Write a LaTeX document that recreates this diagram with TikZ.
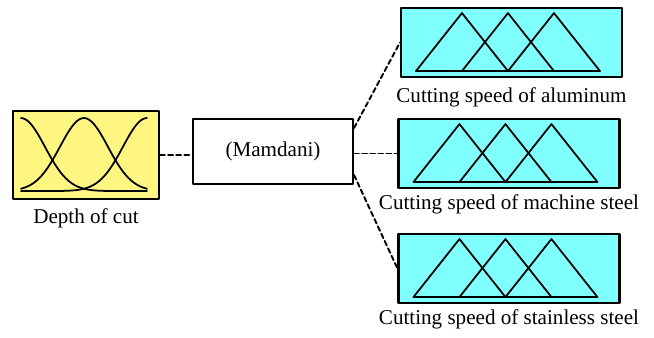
\documentclass[tikz,border=0pt]{standalone}
\usepackage{fontspec}
\setmainfont{Liberation Serif}
\usetikzlibrary{positioning}
\definecolor{fisyellow}{RGB}{255,246,130}
\definecolor{fiscyan}{RGB}{128,255,255}
\begin{document}
\begin{tikzpicture}[font=\fontsize{12}{14}\selectfont, line join=round, line cap=round,
	box/.style={draw, line width=1.2pt, inner sep=0pt},
	outbox/.style={box, fill=fiscyan, minimum width=4.42cm, minimum height=1.38cm},
	link/.style={line width=1.1pt, dash pattern=on 2.8pt off 1.8pt},
	mf/.style={line width=1pt}]
	\useasboundingbox (0,0) rectangle (13.08,6.74);
	% input, engine, outputs
	\node[box, fill=fisyellow, minimum width=2.92cm, minimum height=1.76cm] (depth) at (1.72,3.64) {};
	\node[box, minimum width=3.2cm, minimum height=1.3cm] (mam) at (5.46,3.71) {(Mamdani)};
	\node[outbox] (alu) at (10.23,5.89) {};
	\node[outbox] (mach) at (10.18,3.67) {};
	\node[outbox] (stain) at (10.18,1.37) {};
	\node[below=0.16cm of depth, inner sep=0pt] (depthlbl) {Depth of cut};
	\node[below=0.18cm of alu, inner sep=0pt] (alulbl) {Cutting speed of aluminum};
	\node[below=0.1cm of mach, inner sep=0pt] (machlbl) {Cutting speed of machine steel};
	\node[below=0.1cm of stain, inner sep=0pt] (stainlbl) {Cutting speed of stainless steel};
	% gaussian membership functions
	\begin{scope}[shift={(depth.south west)}]
		\foreach \c in {0.18,1.44,2.70}
		\draw[mf] plot[domain=0.18:2.70, samples=60, smooth] (\x,{0.18+1.46*exp(-(\x-\c)*(\x-\c)/0.4608)});
	\end{scope}
	% triangular membership functions
	\foreach \b in {alu,mach,stain}{
		\begin{scope}[shift={(\b.south west)}]
			\foreach \k in {0,1,2}
			\draw[mf] ({0.32+0.92*\k},0.14) -- ({1.24+0.92*\k},1.30) -- ({2.16+0.92*\k},0.14);
			\draw[mf] (0.32,0.14) -- (4.0,0.14);
		\end{scope}
	}
	% connectors
	\draw[link] (depth.east) -- (depth.east -| mam.west);
	\draw[link] ([yshift=0.47cm]mam.east) -- (alu.west);
	\draw[link] (mam.east |- mach.west) -- (mach.west);
	\draw[link] ([yshift=-0.47cm]mam.east) -- (stain.west);
\end{tikzpicture}
\end{document}
